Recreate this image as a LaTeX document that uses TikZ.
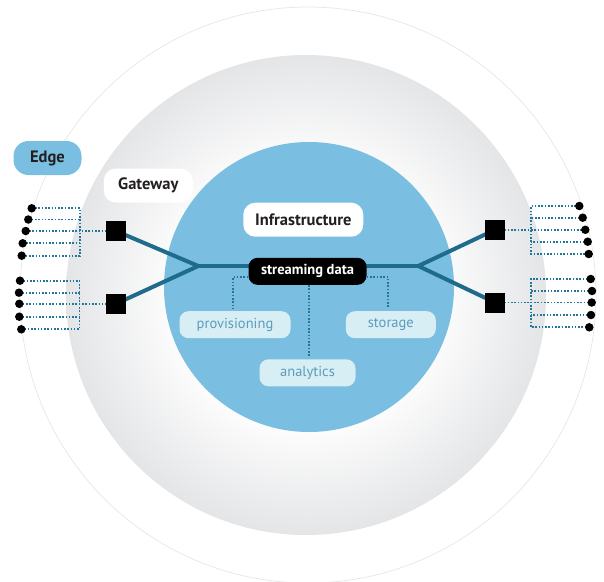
\documentclass[tikz,border=0pt]{standalone}
\usepackage{fontspec}
\setmainfont{PT Sans}
\definecolor{blueC}{HTML}{7ABFE1}
\definecolor{ringgray}{HTML}{E4E5E7}
\definecolor{outerline}{HTML}{E6E6E6}
\definecolor{trunkC}{HTML}{1F6B8C}
\definecolor{lightboxC}{HTML}{D7EEF5}
\definecolor{lighttextC}{HTML}{5D9CBB}
\definecolor{darktextC}{HTML}{231F20}
\definecolor{dotlineC}{HTML}{22769A}
\pgfdeclareradialshading{ringshade}{\pgfpoint{0bp}{0bp}}{color(0bp)=(white); color(13bp)=(white); color(25bp)=(ringgray); color(50bp)=(ringgray)}
\pgfdeclarelayer{back}
\pgfdeclarelayer{mid}
\pgfsetlayers{back,mid,main}
\tikzset{
  box/.style={inner sep=0pt, minimum height=34pt, rounded corners=12pt, text=darktextC, font=\fontsize{16.5}{18}\selectfont\bfseries},
  edgebox/.style={box, fill=blueC, rounded corners=15pt},
  whitebox/.style={box, fill=white},
  blackbox/.style={inner sep=0pt, minimum height=27pt, minimum width=118pt, rounded corners=9pt, fill=black, text=white, font=\fontsize{14.5}{16}\selectfont\bfseries},
  lightbox/.style={inner sep=0pt, minimum height=27pt, rounded corners=9pt, fill=lightboxC, text=lighttextC, font=\fontsize{14.5}{16}\selectfont},
  sq/.style={inner sep=0pt, minimum size=20pt, fill=black},
  enddot/.style={circle, inner sep=0pt, minimum size=8.5pt, fill=black},
  trunk/.style={trunkC, line width=4pt},
  dotl/.style={dotlineC, line width=1.7pt, dash pattern=on 1.6pt off 1.7pt},
}
\begin{document}
\begin{tikzpicture}[x=1pt,y=-1pt]
\useasboundingbox (0,0) rectangle (604,581);
\begin{pgfonlayer}{back}
\draw[outerline, line width=0.7pt] (308,295) circle[radius=288pt];
\shade[shading=ringshade] (306,295) circle[radius=240pt];
\fill[blueC] (309,287) circle[radius=145pt];
\end{pgfonlayer}

% labels
\node[edgebox, minimum width=68pt] (edge) at (47.5,158) {Edge};
\node[whitebox, minimum width=89pt] (gw) at (148.3,185.5) {Gateway};
\node[whitebox, minimum width=120pt] (infra) at (303.3,219.7) {Infrastructure};
\node[blackbox] (sd) at (307.5,271.3) {streaming data};
\node[lightbox, minimum width=111pt] (prov) at (235,324.7) {provisioning};
\node[lightbox, minimum width=90pt] (stor) at (390.8,324.7) {storage};
\node[lightbox, minimum width=96pt] (anal) at (307.5,372.8) {analytics};

% gateways
\node[sq] (sq1) at (116,231) {};
\node[sq] (sq2) at (116,303.8) {};
\node[sq] (sq3) at (495,229.8) {};
\node[sq] (sq4) at (495,302.5) {};
\coordinate (jl) at (198.3,266);
\coordinate (jr) at (418.3,266);

% edge devices, left
\node[enddot] (a1) at (31.7,208.3) {};
\node[enddot] (a2) at (28.3,219.5) {};
\node[enddot] (a3) at (25.7,231) {};
\node[enddot] (a4) at (22.7,243.3) {};
\node[enddot] (a5) at (21.7,255.7) {};
\node[enddot] (b1) at (20,280.7) {};
\node[enddot] (b2) at (19,292.7) {};
\node[enddot] (b3) at (19.3,303.8) {};
\node[enddot] (b4) at (19.3,316.7) {};
\node[enddot] (b5) at (21.3,329.3) {};
% edge devices, right
\node[enddot] (c1) at (579.3,206) {};
\node[enddot] (c2) at (582.7,217.7) {};
\node[enddot] (c3) at (585.3,229.8) {};
\node[enddot] (c4) at (587.7,241.7) {};
\node[enddot] (c5) at (588.7,254) {};
\node[enddot] (d1) at (590.7,279) {};
\node[enddot] (d2) at (592,291) {};
\node[enddot] (d3) at (591.7,302.5) {};
\node[enddot] (d4) at (591,315) {};
\node[enddot] (d5) at (589.3,327.3) {};

\coordinate (ka) at (80,0);
\coordinate (kb) at (79.5,0);
\coordinate (kc) at (531,0);
\coordinate (kd) at (531,0);

\begin{pgfonlayer}{mid}
\draw[trunk] (sq1.center) -- (jl) -- (sq2.center);
\draw[trunk] (sq3.center) -- (jr) -- (sq4.center);
\draw[trunk] (jl) -- (jr);
% left brackets
\draw[dotl] (a1.center) -- (a1.center -| ka) -- (a5.center -| ka) -- (a5.center);
\draw[dotl] (a2.center) -- (a2.center -| ka);
\draw[dotl] (a4.center) -- (a4.center -| ka);
\draw[dotl] (a3.center) -- (sq1.center);
\draw[dotl] (b1.center) -- (b1.center -| kb) -- (b5.center -| kb) -- (b5.center);
\draw[dotl] (b2.center) -- (b2.center -| kb);
\draw[dotl] (b4.center) -- (b4.center -| kb);
\draw[dotl] (b3.center) -- (sq2.center);
% right brackets
\draw[dotl] (c1.center) -- (c1.center -| kc) -- (c5.center -| kc) -- (c5.center);
\draw[dotl] (c2.center) -- (c2.center -| kc);
\draw[dotl] (c4.center) -- (c4.center -| kc);
\draw[dotl] (c3.center) -- (sq3.center);
\draw[dotl] (d1.center) -- (d1.center -| kd) -- (d5.center -| kd) -- (d5.center);
\draw[dotl] (d2.center) -- (d2.center -| kd);
\draw[dotl] (d4.center) -- (d4.center -| kd);
\draw[dotl] (d3.center) -- (sq4.center);
% services
\draw[dotl] ([yshift=-6pt]sd.west) -| ([xshift=-2.3pt,yshift=3pt]prov.north);
\draw[dotl] ([yshift=-6pt]sd.east) -| ([xshift=-2.5pt,yshift=3pt]stor.north);
\draw[dotl] ([xshift=1.5pt]sd.south) -- ([xshift=1.5pt,yshift=2pt]anal.north);
\end{pgfonlayer}
\end{tikzpicture}
\end{document}
